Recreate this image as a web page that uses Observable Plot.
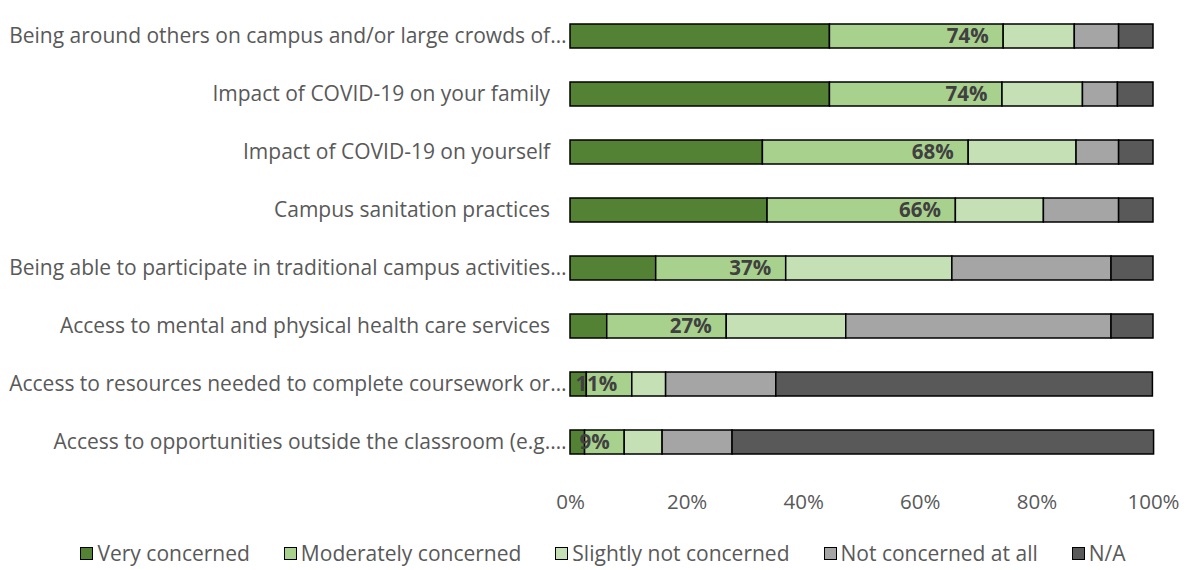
<!DOCTYPE html>
<html>
<head>
<meta charset="utf-8">
<script src="https://cdn.jsdelivr.net/npm/d3@7"></script>
<script src="https://cdn.jsdelivr.net/npm/@observablehq/plot@0.6"></script>
<style>
  html, body { margin: 0; padding: 0; background: #fff; }
  body { width: 1188px; height: 570px; overflow: hidden; font-family: "Open Sans", sans-serif; }
  #legend { display: flex; justify-content: center; gap: 34px; margin-top: 19px; margin-left: 18px; font-size: 21px; color: #595959; }
  #legend .item { display: flex; align-items: center; gap: 4px; }
  #legend .sw { width: 13px; height: 13px; border: 1.5px solid #000; box-sizing: border-box; display: inline-block; }
</style>
</head>
<body>
<div id="chart"></div>
<div id="legend"></div>
<script>
const categories = [
  "Being around others on campus and/or large crowds of…",
  "Impact of COVID-19 on your family\u00a0\u00a0\u00a0",
  "Impact of COVID-19 on yourself\u00a0\u00a0\u00a0",
  "Campus sanitation practices\u00a0\u00a0\u00a0",
  "Being able to participate in traditional campus activities…",
  "Access to mental and physical health care services\u00a0\u00a0\u00a0",
  "Access to resources needed to complete coursework or…",
  "Access to opportunities outside the classroom (e.g.…"
];
const seriesNames = ["Very concerned", "Moderately concerned", "Slightly not concerned", "Not concerned at all", "N/A"];
const colors = ["#548235", "#a9d18e", "#c5e0b4", "#a5a5a5", "#595959"];
const veryConcerned       = [44.5, 44.5, 33.0, 33.8, 14.7,  6.3,  2.8,  2.5];
const moderatelyConcerned = [29.8, 29.6, 35.3, 32.3, 22.3, 20.5,  7.8,  6.8];
const slightlyNotConcerned= [12.2, 13.8, 18.5, 15.1, 28.5, 20.5,  5.8,  6.5];
const notConcernedAtAll   = [ 7.6,  6.0,  7.3, 12.9, 27.3, 45.5, 18.9, 12.0];
const notApplicable       = [ 5.9,  6.1,  5.9,  5.9,  7.2,  7.2, 64.6, 72.3];
const labelValues = [74, 74, 68, 66, 37, 27, 11, 9];
const xTicks = [0, 20, 40, 60, 80, 100];

const series = [veryConcerned, moderatelyConcerned, slightlyNotConcerned, notConcernedAtAll, notApplicable];
const data = [];
categories.forEach((c, i) => {
  seriesNames.forEach((s, j) => data.push({category: c, series: s, value: series[j][i]}));
});
const labels = categories.map((c, i) => ({category: c, value: veryConcerned[i] + moderatelyConcerned[i], label: labelValues[i] + "%"}));

const chart = Plot.plot({
  width: 1188,
  height: 520,
  marginLeft: 570,
  marginRight: 35,
  marginTop: 0,
  marginBottom: 49,
  style: {fontFamily: "Open Sans, sans-serif", fontSize: "20px", color: "#595959", background: "#fff"},
  x: {domain: [0, 100], ticks: xTicks, tickFormat: d => d + "%", grid: false, label: null},
  y: {domain: categories, range: [6, 471], paddingInner: 0.587, paddingOuter: 0.293, label: null},
  color: {domain: seriesNames, range: colors},
  marks: [
    Plot.ruleX(xTicks, {x: d => d, y1: 0, y2: 471, stroke: "#d9d9d9", strokeWidth: 1.5}),
    Plot.barX(data, Plot.stackX({x: "value", y: "category", fill: "series", order: seriesNames, stroke: "#000", strokeWidth: 1.5})),
    Plot.text(labels, {x: "value", y: "category", text: "label", textAnchor: "end", dx: -15, fill: "#404040", fontWeight: "bold", fontSize: 20.5}),
    Plot.axisX({ticks: xTicks, tickFormat: d => d + "%", tickSize: 0, tickPadding: 23, fontSize: 20.5, label: null}),
    Plot.axisY({tickSize: 0, tickPadding: 4, fontSize: 21, label: null})
  ]
});
document.getElementById("chart").appendChild(chart);

const legend = document.getElementById("legend");
seriesNames.forEach((s, j) => {
  const it = document.createElement("span");
  it.className = "item";
  it.innerHTML = `<span class="sw" style="background:${colors[j]}"></span>${s}`;
  legend.appendChild(it);
});
</script>
</body>
</html>
